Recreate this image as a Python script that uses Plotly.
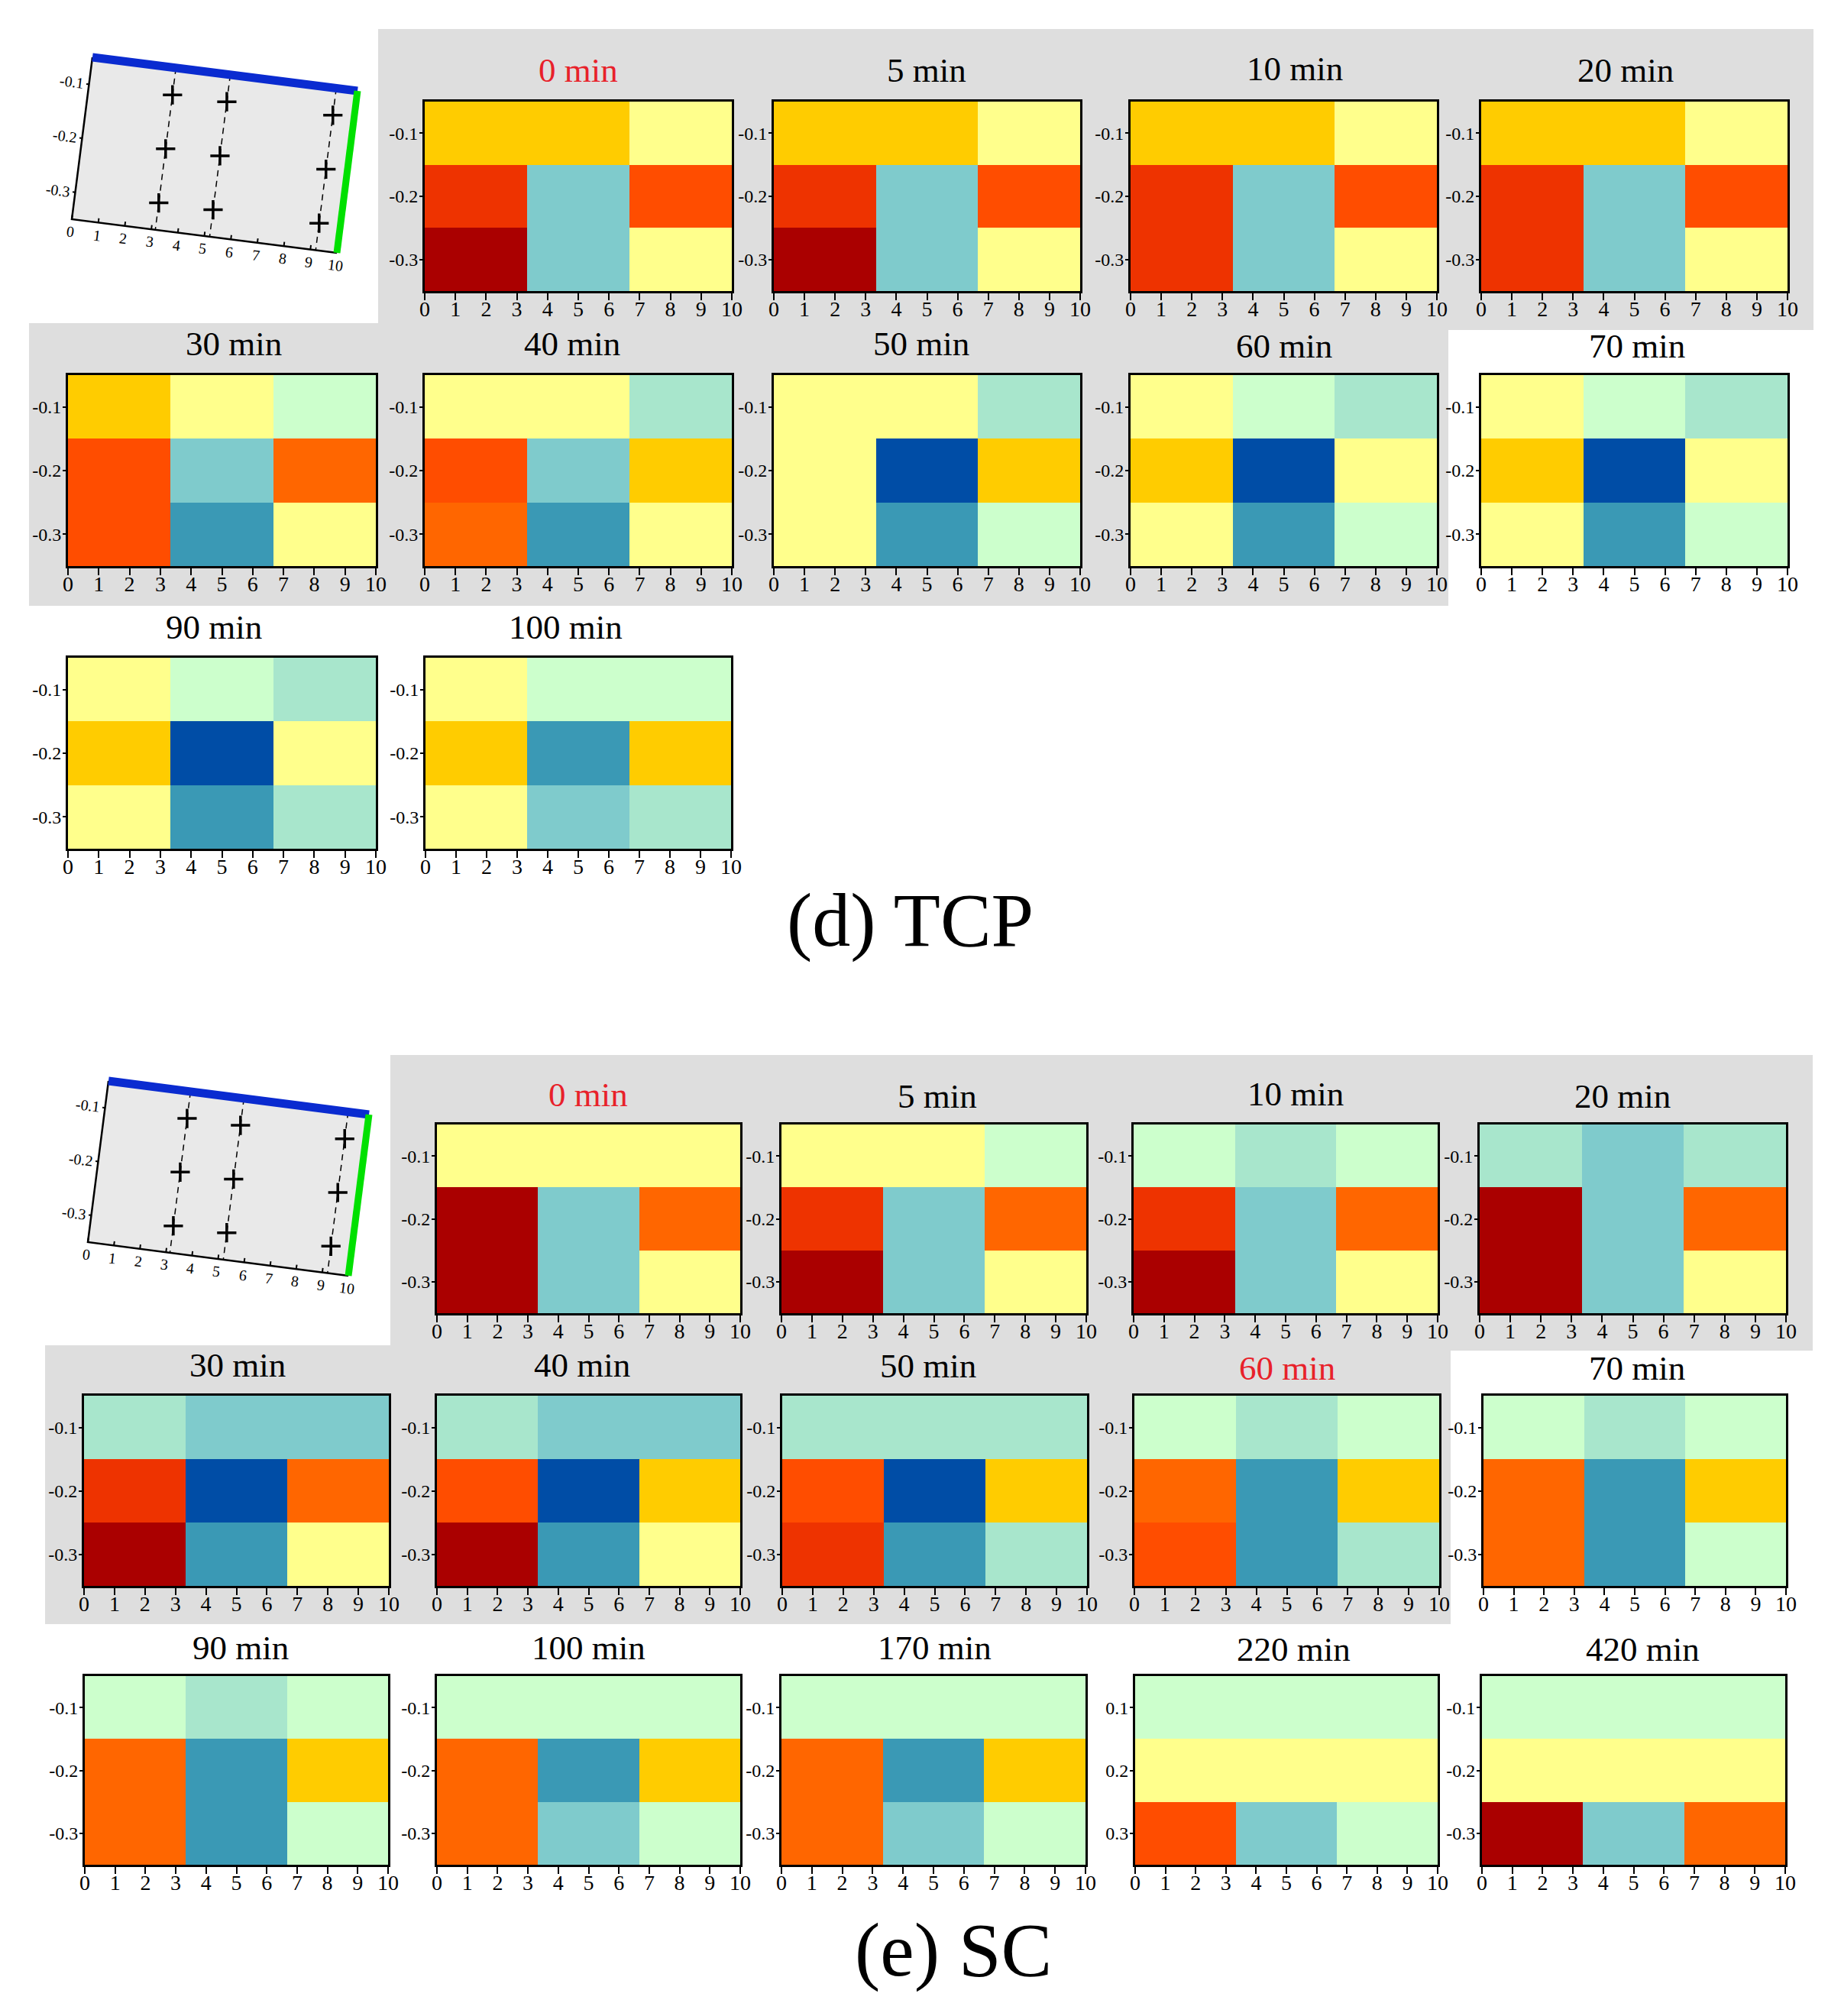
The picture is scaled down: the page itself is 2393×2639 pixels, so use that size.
import plotly.graph_objects as go

W = 2393
H = 2639

# colour levels, low to high
level_colors = ["#004DA6", "#3A99B5", "#7FCBCC", "#A8E6CC", "#CCFFCC", "#FFFF8C",
                "#FFCC00", "#FF6600", "#FF4D00", "#EE3300", "#AA0000"]

x_edges = [0, 10 / 3, 20 / 3, 10]
y_edges = [-0.05, -0.15, -0.25, -0.35]
x_ticks = [0, 1, 2, 3, 4, 5, 6, 7, 8, 9, 10]
y_ticks = [-0.1, -0.2, -0.3]
y_ticktext = ["-0.1", "-0.2", "-0.3"]
y_ticktext_220 = ["0.1", "0.2", "0.3"]

# (d) TCP
tcp_titles = ["0 min", "5 min", "10 min", "20 min", "30 min", "40 min", "50 min",
              "60 min", "70 min", "90 min", "100 min"]
tcp_0 = [[6, 6, 5], [9, 2, 8], [10, 2, 5]]
tcp_5 = [[6, 6, 5], [9, 2, 8], [10, 2, 5]]
tcp_10 = [[6, 6, 5], [9, 2, 8], [9, 2, 5]]
tcp_20 = [[6, 6, 5], [9, 2, 8], [9, 2, 5]]
tcp_30 = [[6, 5, 4], [8, 2, 7], [8, 1, 5]]
tcp_40 = [[5, 5, 3], [8, 2, 6], [7, 1, 5]]
tcp_50 = [[5, 5, 3], [5, 0, 6], [5, 1, 4]]
tcp_60 = [[5, 4, 3], [6, 0, 5], [5, 1, 4]]
tcp_70 = [[5, 4, 3], [6, 0, 5], [5, 1, 4]]
tcp_90 = [[5, 4, 3], [6, 0, 5], [5, 1, 3]]
tcp_100 = [[5, 4, 4], [6, 1, 6], [5, 2, 3]]
tcp_levels = [tcp_0, tcp_5, tcp_10, tcp_20, tcp_30, tcp_40, tcp_50, tcp_60, tcp_70, tcp_90, tcp_100]

# (e) SC
sc_titles = ["0 min", "5 min", "10 min", "20 min", "30 min", "40 min", "50 min", "60 min",
             "70 min", "90 min", "100 min", "170 min", "220 min", "420 min"]
sc_0 = [[5, 5, 5], [10, 2, 7], [10, 2, 5]]
sc_5 = [[5, 5, 4], [9, 2, 7], [10, 2, 5]]
sc_10 = [[4, 3, 4], [9, 2, 7], [10, 2, 5]]
sc_20 = [[3, 2, 3], [10, 2, 7], [10, 2, 5]]
sc_30 = [[3, 2, 2], [9, 0, 7], [10, 1, 5]]
sc_40 = [[3, 2, 2], [8, 0, 6], [10, 1, 5]]
sc_50 = [[3, 3, 3], [8, 0, 6], [9, 1, 3]]
sc_60 = [[4, 3, 4], [7, 1, 6], [8, 1, 3]]
sc_70 = [[4, 3, 4], [7, 1, 6], [7, 1, 4]]
sc_90 = [[4, 3, 4], [7, 1, 6], [7, 1, 4]]
sc_100 = [[4, 4, 4], [7, 1, 6], [7, 2, 4]]
sc_170 = [[4, 4, 4], [7, 1, 6], [7, 2, 4]]
sc_220 = [[4, 4, 4], [5, 5, 5], [8, 2, 4]]
sc_420 = [[4, 4, 4], [5, 5, 5], [10, 2, 7]]
sc_levels = [sc_0, sc_5, sc_10, sc_20, sc_30, sc_40, sc_50, sc_60, sc_70, sc_90, sc_100,
             sc_170, sc_220, sc_420]

# sensor layout drawn in the small sketches
sensor_x = [3.15, 5.2, 9.2]
sensor_y = [-0.1, -0.2, -0.3]

# panel boxes in page pixels: left, right, top, bottom, title x, title y
tcp_boxes = [
    (556, 958, 133, 381, 757, 92), (1013, 1414, 133, 381, 1213, 92),
    (1480, 1881, 133, 381, 1695, 90), (1939, 2340, 133, 381, 2128, 92),
    (89, 492, 491, 741, 306, 450), (556, 958, 491, 741, 749, 450),
    (1013, 1414, 491, 741, 1206, 450), (1480, 1881, 491, 741, 1681, 453),
    (1939, 2340, 491, 741, 2143, 453),
    (89, 492, 861, 1111, 280, 821), (557, 957, 861, 1111, 740, 821),
]
sc_boxes = [
    (572, 969, 1472, 1719, 770, 1433), (1023, 1422, 1472, 1719, 1227, 1435),
    (1484, 1882, 1472, 1719, 1696, 1432), (1937, 2338, 1472, 1719, 2124, 1435),
    (110, 509, 1827, 2076, 311, 1787), (572, 969, 1827, 2076, 762, 1787),
    (1024, 1423, 1827, 2076, 1215, 1788), (1485, 1884, 1827, 2076, 1685, 1791),
    (1942, 2338, 1827, 2076, 2143, 1791),
    (111, 508, 2194, 2441, 315, 2157), (572, 969, 2194, 2441, 770, 2157),
    (1023, 1421, 2194, 2441, 1223, 2157), (1486, 1882, 2194, 2441, 1693, 2159),
    (1940, 2337, 2194, 2441, 2150, 2159),
]
# sketch corners in page pixels: top left, top right, bottom left
tcp_sketch = ((121, 75), (468, 119), (94, 287))
sc_sketch = ((142, 1415), (483, 1459), (115, 1626))
# grey backing rectangles: x0, x1, y0, y1
grey_rects = [(495, 2374, 38, 432), (38, 1896, 423, 793),
              (511, 2373, 1381, 1768), (59, 1899, 1761, 2126)]

FONT = "Liberation Serif"
GREY = "#DEDEDE"
RED = "#E8212A"


def px(x):
    return x / W


def py(y):
    return 1 - y / H


# stepped scale so every level keeps one flat colour
n = len(level_colors)
colorscale = []
for i, c in enumerate(level_colors):
    colorscale.append([i / n, c])
    colorscale.append([(i + 1) / n, c])

fig = go.Figure()
layout = {}
annotations = []
axis_no = 0


def add_panel(levels, box, title, red=False, ticktext=y_ticktext):
    global axis_no
    axis_no += 1
    left, right, top, bottom, tx, ty = box
    fig.add_trace(go.Heatmap(z=levels, x=x_edges, y=y_edges, zmin=-0.5, zmax=n - 0.5,
                             colorscale=colorscale, showscale=False,
                             xaxis="x%d" % axis_no, yaxis="y%d" % axis_no))
    layout["xaxis%d" % axis_no] = dict(
        domain=[px(left), px(right)], anchor="y%d" % axis_no, range=[0, 10], automargin=False,
        tickvals=x_ticks, ticks="outside", ticklen=9, tickwidth=2, tickcolor="black",
        ticklabelstandoff=-13,
        showline=True, linecolor="black", linewidth=3, mirror=True, showgrid=False, zeroline=False,
        tickangle=0, tickfont=dict(family=FONT, size=28, color="black"))
    layout["yaxis%d" % axis_no] = dict(
        domain=[py(bottom), py(top)], anchor="x%d" % axis_no, range=[-0.35, -0.05], automargin=False,
        tickvals=y_ticks, ticktext=ticktext, ticks="outside", ticklen=4, tickwidth=2, tickcolor="black",
        ticklabelstandoff=-3,
        showline=True, linecolor="black", linewidth=3, mirror=True, showgrid=False, zeroline=False,
        tickfont=dict(family=FONT, size=24, color="black"))
    annotations.append(dict(text=title, x=px(tx), y=py(ty), xref="paper", yref="paper",
                            xanchor="center", yanchor="middle", showarrow=False,
                            font=dict(family=FONT, size=45, color=RED if red else "black")))


for i, (lv, t) in enumerate(zip(tcp_levels, tcp_titles)):
    add_panel(lv, tcp_boxes[i], t, red=(i == 0))
for i, (lv, t) in enumerate(zip(sc_levels, sc_titles)):
    add_panel(lv, sc_boxes[i], t, red=(i == 0 or t == "60 min"),
              ticktext=y_ticktext_220 if t == "220 min" else y_ticktext)

# one page-sized axis pair for the tilted sketches
axis_no += 1
sk_x = "x%d" % axis_no
sk_y = "y%d" % axis_no
layout["xaxis%d" % axis_no] = dict(domain=[0, 1], range=[0, W], visible=False, anchor=sk_y, automargin=False)
layout["yaxis%d" % axis_no] = dict(domain=[0, 1], range=[H, 0], visible=False, anchor=sk_x, automargin=False)


def add_sketch(corners):
    (x0, y0), (x1, y1), (x2, y2) = corners

    def project(u, v):
        a = u / 10
        b = (-0.05 - v) / 0.3
        return x0 + a * (x1 - x0) + b * (x2 - x0), y0 + a * (y1 - y0) + b * (y2 - y0)

    def add_line(points, color="black", width=2, dash="solid", fill=None):
        xs, ys = [], []
        for p in points:
            if p is None:
                xs.append(None)
                ys.append(None)
            else:
                q = project(*p)
                xs.append(q[0])
                ys.append(q[1])
        fig.add_trace(go.Scatter(x=xs, y=ys, mode="lines", xaxis=sk_x, yaxis=sk_y, fill=fill,
                                 fillcolor="#E9E9E9", hoverinfo="skip",
                                 line=dict(color=color, width=width, dash=dash)))

    add_line([(0, -0.05), (10, -0.05), (10, -0.35), (0, -0.35), (0, -0.05)],
             color="#E9E9E9", width=1, fill="toself")
    for u in sensor_x:
        add_line([(u, -0.05), (u, -0.35)], width=1.5, dash="8px,6px")
    add_line([(0, -0.05), (0, -0.35), (10, -0.35)], width=2.5)
    ticks = []
    for u in x_ticks:
        ticks += [(u, -0.35), (u, -0.342), None]
    for v in y_ticks:
        ticks += [(0, v), (-0.1, v), None]
    add_line(ticks, width=2)
    add_line([(0, -0.05), (10, -0.05)], color="#0A2BD0", width=11)
    add_line([(10, -0.05), (10, -0.35)], color="#00E000", width=9)

    sx, sy = [], []
    for u in sensor_x:
        for v in sensor_y:
            q = project(u, v)
            sx.append(q[0])
            sy.append(q[1])
    fig.add_trace(go.Scatter(x=sx, y=sy, mode="markers", xaxis=sk_x, yaxis=sk_y, hoverinfo="skip",
                             marker=dict(symbol="cross-thin", size=18, line=dict(color="black", width=3.5))))

    angle = 7
    for u in x_ticks:
        q = project(u, -0.373)
        annotations.append(dict(text=str(u), x=q[0], y=q[1], xref=sk_x, yref=sk_y, showarrow=False,
                                textangle=angle, font=dict(family=FONT, size=20, color="black")))
    for v, t in zip(y_ticks, y_ticktext):
        q = project(-0.65, v)
        annotations.append(dict(text=t, x=q[0], y=q[1], xref=sk_x, yref=sk_y, showarrow=False,
                                textangle=angle, font=dict(family=FONT, size=20, color="black")))


add_sketch(tcp_sketch)
add_sketch(sc_sketch)

annotations.append(dict(text="(d) TCP", x=px(1191), y=py(1204), xref="paper", yref="paper",
                        xanchor="center", yanchor="middle", showarrow=False,
                        font=dict(family=FONT, size=100, color="black")))
annotations.append(dict(text="(e) SC", x=px(1248), y=py(2552), xref="paper", yref="paper",
                        xanchor="center", yanchor="middle", showarrow=False,
                        font=dict(family=FONT, size=100, color="black")))

shapes = []
for x0, x1, y0, y1 in grey_rects:
    shapes.append(dict(type="rect", xref="paper", yref="paper", x0=px(x0), x1=px(x1), y0=py(y0), y1=py(y1),
                       fillcolor=GREY, line=dict(width=0), layer="below"))

fig.update_layout(width=W, height=H, margin=dict(l=0, r=0, t=0, b=0), showlegend=False,
                  plot_bgcolor="rgba(0,0,0,0)", paper_bgcolor="white",
                  annotations=annotations, shapes=shapes, **layout)

fig.write_html("out.html", config={"displayModeBar": False},
               post_script="document.body.style.margin='0';")
